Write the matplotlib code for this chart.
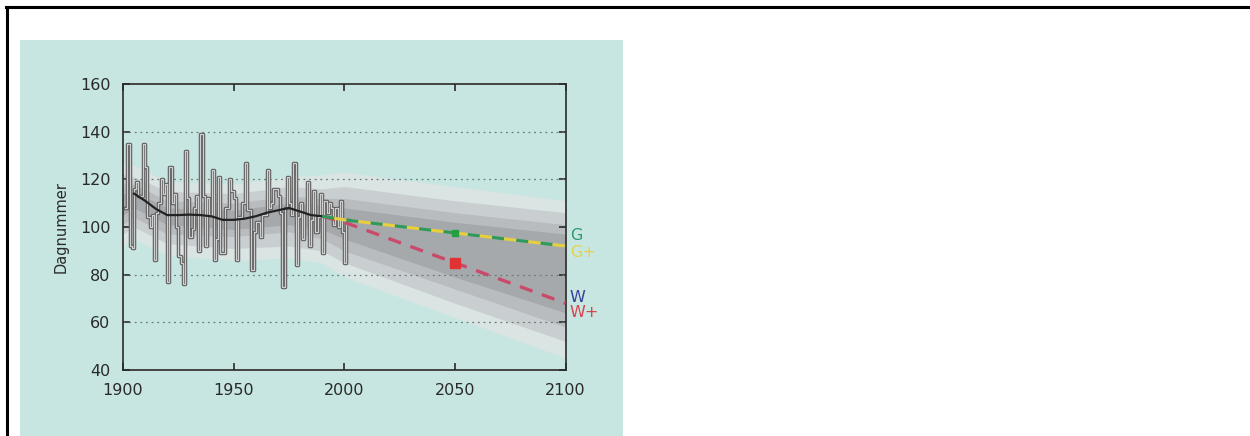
import matplotlib
matplotlib.use("Agg")
import matplotlib.pyplot as plt
from matplotlib.lines import Line2D
from matplotlib.patches import Rectangle

# yearly observations (step series)
values = [108, 135, 92, 91, 116, 119, 113, 113, 135, 125,
          104, 100, 105, 86, 106, 110, 120, 114, 118, 77,
          125, 110, 114, 100, 88, 85, 76, 132, 112, 96,
          99, 108, 113, 90, 139, 113, 92, 112, 105, 124,
          86, 95, 121, 89, 89, 108, 108, 120, 115, 112,
          86, 104, 104, 110, 127, 107, 107, 82, 98, 102,
          102, 96, 105, 105, 124, 108, 110, 116, 116, 113,
          106, 75, 108, 121, 110, 105, 127, 84, 104, 110,
          95, 106, 119, 92, 103, 115, 98, 104, 114, 89,
          111, 106, 110, 108, 101, 108, 100, 111, 98, 85,
          103, 103]
years = list(range(1901, 1901 + len(values)))

# smoothed trend
trend_years = [1905, 1910, 1915, 1920, 1925, 1930, 1935, 1940, 1945, 1950,
               1955, 1960, 1965, 1970, 1975, 1980, 1985, 1990]
trend_vals = [114, 111, 107.5, 105, 105, 105.2, 105, 104.5, 103, 103,
              103.5, 104.5, 106, 107, 108, 106.5, 105, 104.5]

# scenario projections
g_years = [1990, 2000, 2050, 2100]
g_vals = [104.5, 103, 97.5, 92]
w_years = [1990, 2000, 2050, 2100]
w_vals = [104.5, 102, 85, 68]
g_2050 = 97.5
w_2050 = 85

# uncertainty bands (outer to inner)
band_years = [1900, 1905, 1920, 1950, 1975, 1990, 2000, 2050, 2100]
band_upper = [
    [127, 126, 119, 118, 121, 122, 123, 117, 111],
    [122, 121, 115, 114, 117, 116, 117, 111, 106],
    [118, 118, 111, 110, 113, 112, 112, 106, 101],
    [114, 115, 108, 107, 110, 109, 108, 102, 97],
]
band_lower = [
    [92, 95, 88, 86, 87, 85, 79, 62, 45],
    [97, 100, 93, 91, 92, 90, 85, 68, 52],
    [101, 104, 97, 96, 98, 95, 90, 74, 58],
    [105, 108, 101, 99, 101, 99, 95, 79, 64],
]
band_colors = ['#d9e4e3', '#c9cfd0', '#b8bcbe', '#a6a9ab']

grid_levels = [60, 80, 120, 140]
teal = '#c7e6e1'

fig = plt.figure(figsize=(12.5, 4.36), dpi=100)
fig.patch.set_facecolor('white')

fig.add_artist(Rectangle((20 / 1250, 0), 603 / 1250, 396 / 436,
                         transform=fig.transFigure, facecolor=teal,
                         edgecolor='none', zorder=0))
fig.add_artist(Line2D([6 / 1250, 1], [1 - 7.5 / 436, 1 - 7.5 / 436],
                      transform=fig.transFigure, color='black', lw=2.2))
fig.add_artist(Line2D([6.5 / 1250, 6.5 / 1250], [0, 1 - 7.5 / 436],
                      transform=fig.transFigure, color='black', lw=2.2))

ax = fig.add_axes([123 / 1250, 66 / 436, 442.5 / 1250, 286 / 436])
ax.set_facecolor(teal)

for up, lo, c in zip(band_upper, band_lower, band_colors):
    ax.fill_between(band_years, lo, up, color=c, lw=0, zorder=1)

for g in grid_levels:
    ax.axhline(g, color='#6a7a78', lw=0.9, ls=(0, (1.5, 3)), zorder=2)

ax.step(years, values, where='post', color='#5e5e5e', lw=2.5, zorder=3)
ax.step(years, values, where='post', color='#cfcfcf', lw=0.9, zorder=4)
ax.plot(trend_years, trend_vals, color='#222222', lw=1.6, zorder=5)

ax.plot(w_years, w_vals, color='#c94a6a', lw=2.4, ls=(0, (4, 3)), zorder=6)
ax.plot(g_years, g_vals, color='#2f9a5a', lw=2.2, ls=(0, (4, 4)), zorder=6)
ax.plot(g_years, g_vals, color='#e8cf3c', lw=2.2, ls=(4, (4, 4)), zorder=6)
ax.plot([2050], [w_2050], marker='s', ms=7, color='#e03434', zorder=7)
ax.plot([2050], [g_2050], marker='s', ms=5, color='#22a040', zorder=7)

labels = [('G', 96.6, '#2e9a6e'), ('G+', 89.3, '#e6d24a'),
          ('W', 70.4, '#3b3f9c'), ('W+', 64.0, '#d9434f')]
for txt, yv, c in labels:
    ax.text(2102, yv, txt, color=c, fontsize=11.5, va='center',
            ha='left', clip_on=False)

ax.set_xlim(1900, 2100)
ax.set_ylim(40, 160)
ax.set_xticks([1900, 1950, 2000, 2050, 2100])
ax.set_yticks([40, 60, 80, 100, 120, 140, 160])
ax.tick_params(direction='in', length=5, width=1.2, top=True, right=True,
               labelsize=11.5, colors='#2a2a2a', pad=9)
for s in ax.spines.values():
    s.set_color('#2a2a2a')
    s.set_linewidth(1.2)
ax.set_ylabel('Dagnummer', fontsize=10.5, color='#2a2a2a', labelpad=8)

fig.savefig('out.png', dpi=100)
